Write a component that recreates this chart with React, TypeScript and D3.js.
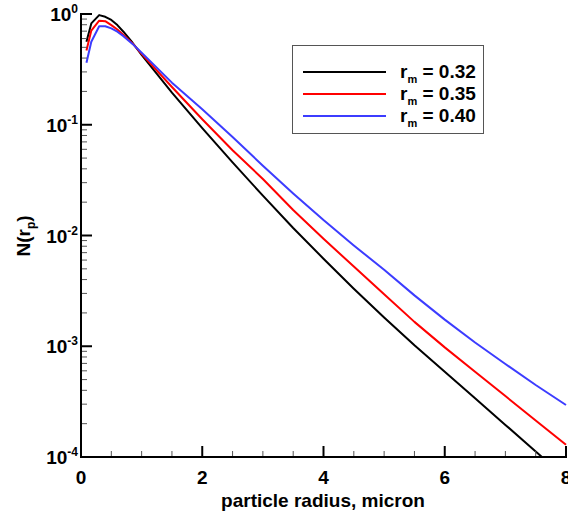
import React from "react";
import * as d3 from "d3";

const radius = [0.09, 0.17, 0.3, 0.4, 0.5, 0.6, 0.7, 0.85, 1.0, 1.5, 2.0, 2.5, 3.0, 3.5, 4.0, 4.5, 5.0, 5.5, 6.0, 6.5, 7.0, 7.5, 8.0];
const black032 = [0.562, 0.822, 0.977, 0.944, 0.883, 0.794, 0.692, 0.55, 0.427, 0.195, 0.0933, 0.0457, 0.0229, 0.0117, 0.00617, 0.00331, 0.00182, 0.00102, 0.000589, 0.000339, 0.000195, 0.000112, 0.0000646];
const red035 = [0.468, 0.708, 0.871, 0.861, 0.794, 0.724, 0.646, 0.543, 0.437, 0.219, 0.112, 0.0589, 0.0324, 0.017, 0.00933, 0.00525, 0.00295, 0.00166, 0.000977, 0.000589, 0.000355, 0.000214, 0.000129];
const blue040 = [0.363, 0.562, 0.776, 0.776, 0.741, 0.692, 0.631, 0.537, 0.447, 0.24, 0.138, 0.0776, 0.0427, 0.024, 0.0138, 0.00813, 0.0049, 0.00288, 0.00174, 0.00108, 0.000692, 0.000447, 0.000295];

const seriesNames = ["0.32", "0.35", "0.40"];
const seriesColors = ["#000000", "#ff0000", "#3c3cff"];
const xTicks = [0, 2, 4, 6, 8];
const yExponents = [0, -1, -2, -3, -4];

const W = 568, H = 514;
const L = 81, R = 566, T = 14, B = 457;
const FONT = "'Liberation Sans', Arial, Helvetica, sans-serif";

export default function App() {
  const x = d3.scaleLinear().domain([0, 8]).range([L, R]);
  const y = d3.scaleLog().domain([1e-4, 1]).range([B, T]);
  const allSeries = [black032, red035, blue040];

  const line = d3
    .line<[number, number]>()
    .x((d) => x(d[0]))
    .y((d) => y(d[1]));

  const minorX = d3.range(0.5, 8, 0.5).filter((v) => v % 2 !== 0);
  const minorY: number[] = [];
  for (let e = -4; e < 0; e++) for (let m = 2; m <= 9; m++) minorY.push(m * Math.pow(10, e));

  const legendRows = [72, 94, 116];

  return (
    <svg width={W} height={H} style={{ position: "absolute", left: 0, top: 0, background: "#fff" }} fontFamily={FONT}>
      <defs>
        <clipPath id="plotClip">
          <rect x={L} y={T - 2} width={R - L + 2} height={B - T + 2} />
        </clipPath>
      </defs>
      <rect x={0} y={0} width={W} height={H} fill="#fff" />

      <g clipPath="url(#plotClip)">
        {allSeries.map((s, i) => (
          <path
            key={i}
            d={line(radius.map((r, k) => [r, s[k]] as [number, number])) || ""}
            fill="none"
            stroke={seriesColors[i]}
            strokeWidth={2}
            strokeLinejoin="round"
          />
        ))}
      </g>

      {/* minor ticks */}
      {minorX.map((v) => (
        <line key={"mx" + v} x1={x(v)} x2={x(v)} y1={B} y2={B - 6} stroke="#555" strokeWidth={1} />
      ))}
      {minorY.map((v, i) => (
        <line key={"my" + i} x1={L} x2={L + 6} y1={y(v)} y2={y(v)} stroke="#555" strokeWidth={1} />
      ))}
      {/* major ticks */}
      {xTicks.map((v) => (
        <line key={"Mx" + v} x1={x(v)} x2={x(v)} y1={B} y2={B - 11} stroke="#000" strokeWidth={2} />
      ))}
      {yExponents.map((e) => (
        <line key={"My" + e} x1={L} x2={L + 11} y1={y(Math.pow(10, e))} y2={y(Math.pow(10, e))} stroke="#000" strokeWidth={2} />
      ))}

      {/* axes */}
      <line x1={L} x2={L} y1={T - 1} y2={B + 1} stroke="#000" strokeWidth={2} />
      <line x1={L - 1} x2={R + 1} y1={B} y2={B} stroke="#000" strokeWidth={2} />

      {/* x tick labels */}
      {xTicks.map((v) => (
        <text key={"xl" + v} x={x(v)} y={484} textAnchor="middle" fontSize={19} fontWeight="bold" fill="#000">
          {v}
        </text>
      ))}
      {/* y tick labels */}
      {yExponents.map((e) => (
        <text key={"yl" + e} x={78} y={y(Math.pow(10, e)) + 7} textAnchor="end" fontSize={19} fontWeight="bold" fill="#000">
          10
          <tspan fontSize={12} dy={-8}>{e}</tspan>
        </text>
      ))}

      {/* axis titles */}
      <text x={323} y={507} textAnchor="middle" fontSize={19} fontWeight="bold" fill="#000">
        particle radius, micron
      </text>
      <text transform="translate(30,236) rotate(-90)" textAnchor="middle" fontSize={19} fontWeight="bold" fill="#000">
        N(r
        <tspan fontSize={12} dy={5}>p</tspan>
        <tspan dy={-5}>)</tspan>
      </text>

      {/* legend */}
      <rect x={292.5} y={45.5} width={191} height={88} fill="#fff" stroke="#555" strokeWidth={1} />
      {seriesNames.map((n, i) => (
        <g key={"lg" + i}>
          <line x1={303} x2={386} y1={legendRows[i]} y2={legendRows[i]} stroke={seriesColors[i]} strokeWidth={2} />
          <text x={400} y={legendRows[i] + 6} fontSize={19} fontWeight="bold" fill="#000">
            r
            <tspan fontSize={11} dy={5}>m</tspan>
            <tspan dy={-5}> = {n}</tspan>
          </text>
        </g>
      ))}
    </svg>
  );
}
